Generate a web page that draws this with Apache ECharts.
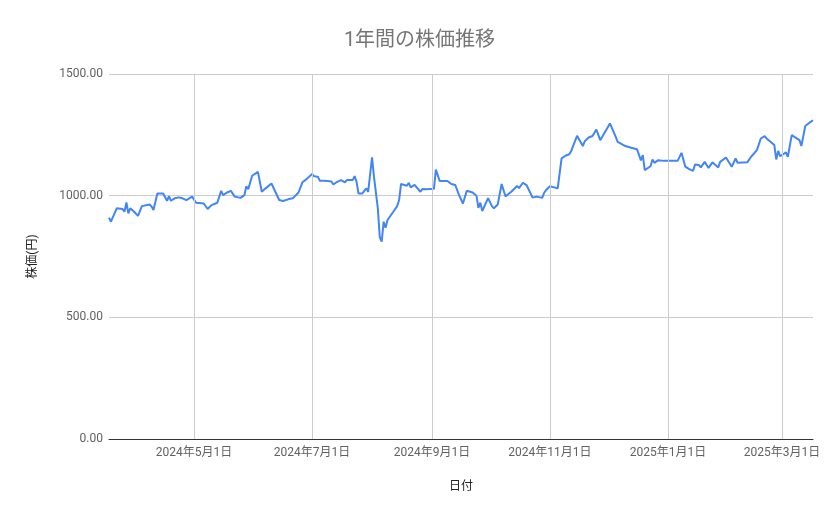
<!DOCTYPE html>
<html>
<head>
<meta charset="utf-8">
<script src="https://cdn.jsdelivr.net/npm/echarts@6/dist/echarts.min.js"></script>
<style>
html,body{margin:0;padding:0;background:#fff;}
#chart{width:839px;height:519px;}
</style>
</head>
<body>
<div id="chart"></div>
<script>
const chartTitle = '1年間の株価推移';
const xAxisName = '日付';
const yAxisName = '株価(円)';

const dates = [
  '2024-03-18','2024-03-19','2024-03-22','2024-03-25','2024-03-26','2024-03-27','2024-03-28','2024-03-29','2024-03-31',
  '2024-04-02','2024-04-04','2024-04-05','2024-04-08','2024-04-09','2024-04-10','2024-04-12','2024-04-15','2024-04-17',
  '2024-04-18','2024-04-19','2024-04-21','2024-04-23','2024-04-25','2024-04-27','2024-04-30',
  '2024-05-01','2024-05-02','2024-05-06','2024-05-08','2024-05-10','2024-05-13','2024-05-14','2024-05-15','2024-05-16',
  '2024-05-18','2024-05-20','2024-05-22','2024-05-25','2024-05-27','2024-05-28','2024-05-29','2024-05-31',
  '2024-06-03','2024-06-05','2024-06-07','2024-06-10','2024-06-14','2024-06-16','2024-06-17','2024-06-19','2024-06-21',
  '2024-06-22','2024-06-24','2024-06-26','2024-06-27','2024-06-28',
  '2024-07-01','2024-07-02','2024-07-04','2024-07-05','2024-07-07','2024-07-09','2024-07-10','2024-07-11','2024-07-12',
  '2024-07-14','2024-07-16','2024-07-18','2024-07-19','2024-07-22','2024-07-23','2024-07-24','2024-07-25','2024-07-27',
  '2024-07-29','2024-07-30',
  '2024-08-01','2024-08-02','2024-08-04','2024-08-05','2024-08-06','2024-08-07','2024-08-08','2024-08-09','2024-08-12',
  '2024-08-14','2024-08-15','2024-08-16','2024-08-19','2024-08-20','2024-08-21','2024-08-23','2024-08-26','2024-08-27',
  '2024-08-29',
  '2024-09-02','2024-09-03','2024-09-05','2024-09-09','2024-09-10','2024-09-11','2024-09-13','2024-09-15','2024-09-17',
  '2024-09-19','2024-09-22','2024-09-24','2024-09-25','2024-09-26','2024-09-27','2024-09-30',
  '2024-10-01','2024-10-02','2024-10-03','2024-10-05','2024-10-07','2024-10-09','2024-10-12','2024-10-15','2024-10-16',
  '2024-10-18','2024-10-20','2024-10-23','2024-10-25','2024-10-28','2024-10-29','2024-10-30','2024-10-31',
  '2024-11-01','2024-11-05','2024-11-07','2024-11-09','2024-11-11','2024-11-12','2024-11-15','2024-11-18','2024-11-19',
  '2024-11-20','2024-11-21','2024-11-23','2024-11-25','2024-11-27','2024-11-28',
  '2024-12-02','2024-12-03','2024-12-05','2024-12-06','2024-12-10','2024-12-11','2024-12-13','2024-12-16','2024-12-18',
  '2024-12-19','2024-12-20','2024-12-23','2024-12-24','2024-12-25','2024-12-27','2024-12-30',
  '2025-01-01','2025-01-06','2025-01-08','2025-01-10','2025-01-12','2025-01-14','2025-01-15','2025-01-17','2025-01-18',
  '2025-01-20','2025-01-22','2025-01-24','2025-01-27','2025-01-28','2025-01-29','2025-01-31',
  '2025-02-03','2025-02-05','2025-02-06','2025-02-11','2025-02-13','2025-02-16','2025-02-18','2025-02-20','2025-02-21',
  '2025-02-25','2025-02-26','2025-02-27','2025-02-28',
  '2025-03-03','2025-03-04','2025-03-06','2025-03-10','2025-03-11','2025-03-13','2025-03-15','2025-03-16','2025-03-17'
];

const prices = [
  910,893,948,945,934,972,927,948,934,
  917,957,955,964,955,941,1009,1009,979,
  998,979,989,993,989,982,996,
  1000,971,968,945,961,971,971,1020,1002,
  1013,1020,996,991,1002,1039,1026,1082,
  1098,1016,1030,1050,982,978,971,986,989,
  996,1013,1055,1048,1067,
  1089,1080,1078,1061,1061,1060,1064,1058,1046,
  1057,1064,1055,1064,1064,1080,1057,1009,1009,
  1030,1016,
  1157,1078,948,830,811,893,868,900,934,
  957,982,1048,1041,1053,1034,1044,1016,1027,
  1026,
  1028,1107,1060,1060,1063,1048,1044,1002,968,
  1020,1013,1000,950,971,937,990,
  998,957,948,964,1048,997,1016,1040,1031,
  1053,1042,992,996,991,1012,1023,1020,
  1039,1030,1153,1164,1170,1184,1246,1204,1224,
  1219,1239,1245,1272,1228,1224,
  1297,1299,1242,1221,1204,1212,1197,1191,1145,
  1167,1105,1121,1149,1135,1146,1143,
  1143,1143,1176,1119,1109,1102,1128,1126,1116,
  1139,1114,1137,1116,1139,1137,1157,
  1119,1153,1135,1137,1160,1187,1235,1245,1235,
  1208,1149,1184,1162,
  1178,1160,1249,1228,1204,1286,1299,1306,1310
];

const xMin = '2024-03-18';
const xMax = '2025-03-17';
const xTickDates = ['2024-05-01','2024-07-01','2024-09-01','2024-11-01','2025-01-01','2025-03-01'];
const yTicks = [0, 500, 1000, 1500];

const toMs = s => Date.parse(s + 'T00:00:00Z');
const FONT = 'Roboto, "Noto Sans CJK JP", sans-serif';
const chart = echarts.init(document.getElementById('chart'), null, {renderer: 'canvas'});

chart.setOption({
  animation: false,
  backgroundColor: '#ffffff',
  title: {
    text: chartTitle,
    left: 'center',
    top: 26,
    textStyle: {color: '#757575', fontSize: 20, fontWeight: 'normal', fontFamily: FONT}
  },
  grid: {left: 109, right: 26, top: 74, bottom: 80, containLabel: false},
  xAxis: {
    type: 'value',
    min: toMs(xMin),
    max: toMs(xMax),
    scale: true,
    name: xAxisName,
    nameLocation: 'middle',
    nameGap: 42,
    nameTextStyle: {color: '#222', fontSize: 12, fontFamily: FONT},
    axisLine: {show: true, onZero: false, lineStyle: {color: '#333', width: 1}},
    axisTick: {show: false, customValues: xTickDates.map(toMs)},
    splitLine: {show: false},
    axisLabel: {
      customValues: xTickDates.map(toMs),
      color: '#616161',
      fontSize: 12,
      fontFamily: FONT,
      margin: 8,
      hideOverlap: false,
      formatter: function (v) {
        const d = new Date(v);
        return d.getUTCFullYear() + '年' + (d.getUTCMonth() + 1) + '月' + d.getUTCDate() + '日';
      }
    }
  },
  yAxis: {
    type: 'value',
    min: yTicks[0],
    max: yTicks[yTicks.length - 1],
    interval: 500,
    name: yAxisName,
    nameLocation: 'middle',
    nameGap: 70,
    nameRotate: 90,
    nameTextStyle: {color: '#222', fontSize: 12, fontFamily: FONT},
    axisLine: {show: false},
    axisTick: {show: false},
    splitLine: {show: true, lineStyle: {color: '#cccccc', width: 1}},
    axisLabel: {
      color: '#616161',
      fontSize: 12,
      fontFamily: FONT,
      margin: 6,
      formatter: function (v) { return v.toFixed(2); }
    }
  },
  series: [{
    type: 'line',
    data: dates.map((d, i) => [toMs(d), prices[i]]),
    showSymbol: false,
    symbol: 'none',
    smooth: false,
    lineStyle: {color: '#4285F4', width: 2},
    itemStyle: {color: '#4285F4'},
    z: 3,
    markLine: {
      silent: true,
      symbol: ['none', 'none'],
      label: {show: false},
      lineStyle: {color: '#cccccc', type: 'solid', width: 1},
      emphasis: {disabled: true},
      data: xTickDates.map(d => ({xAxis: toMs(d)}))
    }
  }]
});
</script>
</body>
</html>
